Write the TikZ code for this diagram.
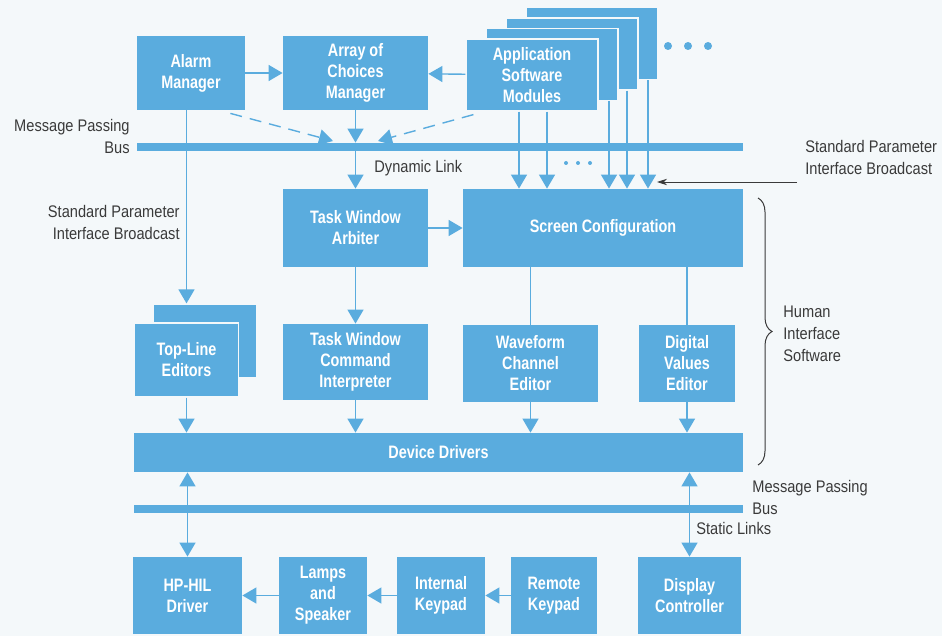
\documentclass[tikz,border=0pt]{standalone}
\usepackage{fontspec}
\setmainfont{Liberation Sans}
\newfontfamily\boxfont{Liberation Sans}[FakeStretch=0.8]
\newfontfamily\lblfont{Liberation Sans}[FakeStretch=0.87]
\definecolor{hpblue}{HTML}{5AACDE}
\definecolor{paper}{HTML}{F4F8FA}
\definecolor{ink}{HTML}{3A3A3A}
\usetikzlibrary{arrows.meta, positioning, calc, decorations.pathreplacing}
\tikzset{
  blk/.style={fill=hpblue, draw=none, text=white, align=center, inner sep=0pt,
              font=\boxfont\bfseries\fontsize{9}{10.5}\selectfont},
  ghost/.style={blk, draw=paper, line width=0.6pt},
  sz/.style 2 args={minimum width=#1*0.5pt, minimum height=#2*0.5pt},
  bus/.style={fill=hpblue, inner sep=0pt, minimum height=4pt},
  flow/.style={-{Triangle[length=7pt,width=8pt]}, line width=0.7pt, color=hpblue},
  dashflow/.style={flow, dash pattern=on 6pt off 4pt},
  bothflow/.style={flow, {Triangle[length=7pt,width=8pt]}-{Triangle[length=7pt,width=8pt]}},
  link/.style={line width=0.7pt, color=hpblue},
  lbl/.style={font=\lblfont\fontsize{8.4}{11}\selectfont, text=ink, inner sep=0pt},
  pointer/.style={-{Stealth[length=5pt,width=3.2pt]}, thin, color=ink},
}
\begin{document}
\begin{tikzpicture}[x=0.5pt,y=-0.5pt]
\fill[paper] (0,0) rectangle (942,636);
\useasboundingbox (0,0) rectangle (942,636);

\node[blk,sz={108}{74}] (alarm) at (191,73) {Alarm\\Manager};
\node[blk,sz={145}{74}] (choices) at (355.5,73) {Array of\\Choices\\Manager};
\foreach \i/\dx/\dy in {3/60/-31.5, 2/40/-21, 1/20/-10.5}
  \node[ghost,sz={132}{72}] (app\i) at (532+\dx,75+\dy) {};
\node[ghost,sz={132}{72}] (app) at (532,75) {Application\\Software\\Modules};
\foreach \x in {668,688,708} \fill[hpblue] (\x,46) circle (4);
\draw[flow] (alarm) -- (choices);
\draw[flow] (app) -- (choices);

\node[bus,minimum width=303pt] (topbus) at (440,147) {};
\node[lbl,anchor=east,align=right] (mpbtop) at (130,136) {Message Passing\\Bus};
\coordinate (dl) at (333,141);
\coordinate (dr) at (378,141);
\draw[dashflow] ($(alarm.south east)+(-15,3)$) -- (dl);
\draw[dashflow] ($(app.south west)+(8,3)$) -- (dr);
\draw[flow] (choices.south) -- (choices.south |- topbus.north);

\node[blk,sz={145}{78}] (arbiter) at (355.5,228) {Task Window\\Arbiter};
\node[blk,sz={280}{78}] (screen) at (603,228) {Screen Configuration};
\draw[flow] (arbiter.north |- topbus.south) -- (arbiter.north);
\node[lbl,anchor=west] (dyn) at (374,168) {Dynamic Link};
\draw[flow] (arbiter) -- (screen);
\foreach \x in {519,547} \draw[flow] (\x,0 |- app.south) -- (\x,0 |- screen.north);
\draw[flow] (609,0 |- app1.south) -- (609,0 |- screen.north);
\draw[flow] (627,0 |- app2.south) -- (627,0 |- screen.north);
\draw[flow] (648,0 |- app3.south) -- (648,0 |- screen.north);
\foreach \x in {566,578,590} \fill[hpblue] (\x,163) circle (2);

\node[lbl,anchor=west,align=left] (spibr) at (805,157.5) {Standard Parameter\\Interface Broadcast};
\coordinate (spibfrom) at (797,182);
\coordinate (spibtip) at (657,182);
\draw[pointer] (spibfrom) -- (spibtip);
\node[lbl,anchor=east,align=right] (spibl) at (180,222) {Standard Parameter\\Interface Broadcast};

\node[ghost,sz={104}{74}] (tleback) at (205,341) {};
\node[ghost,sz={104}{74}] (tle) at (186.5,360) {Top-Line\\Editors};
\draw[flow] (tle.north |- alarm.south) -- (tle.north |- tleback.north);
\node[blk,sz={145}{76}] (twci) at (355.5,362) {Task Window\\Command\\Interpreter};
\node[blk,sz={135}{77}] (wce) at (530.5,363.5) {Waveform\\Channel\\Editor};
\node[blk,sz={96}{77}] (dve) at (687,363.5) {Digital\\Values\\Editor};
\draw[flow] (arbiter) -- (twci);
\draw[link] (screen.south -| wce) -- (wce);
\draw[link] (screen.south -| dve) -- (dve);

\node[blk,sz={609}{39}] (dd) at (438.5,452.5) {Device Drivers};
\foreach \n in {tle,twci,wce,dve} \draw[flow] (\n) -- (\n |- dd.north);
\draw[ink,line width=0.5pt,decorate,decoration={brace,amplitude=7pt}] (758,198) -- (758,465);
\node[lbl,anchor=west,align=left] (his) at (783,334) {Human\\Interface\\Software};

\node[bus,minimum width=304.5pt] (lowbus) at (438.5,508.5) {};
\node[lbl,anchor=west,align=left] (mpblow) at (752,497) {Message Passing\\Bus};
\node[lbl,anchor=west] (static) at (696,528) {Static Links};

\node[blk,sz={109}{77}] (hphil) at (187.5,595.5) {HP-HIL\\Driver};
\node[blk,sz={88}{77}] (lamps) at (323,595.5) {Lamps\\and\\Speaker};
\node[blk,sz={88}{77}] (ikey) at (441,595.5) {Internal\\Keypad};
\node[blk,sz={86}{77}] (rkey) at (554,595.5) {Remote\\Keypad};
\node[blk,sz={103}{77}] (disp) at (689.5,595.5) {Display\\Controller};
\draw[bothflow] (hphil |- dd.south) -- (hphil);
\draw[bothflow] (disp |- dd.south) -- (disp);
\draw[flow] (rkey) -- (ikey);
\draw[flow] (ikey) -- (lamps);
\draw[flow] (lamps) -- (hphil);
\end{tikzpicture}
\end{document}
